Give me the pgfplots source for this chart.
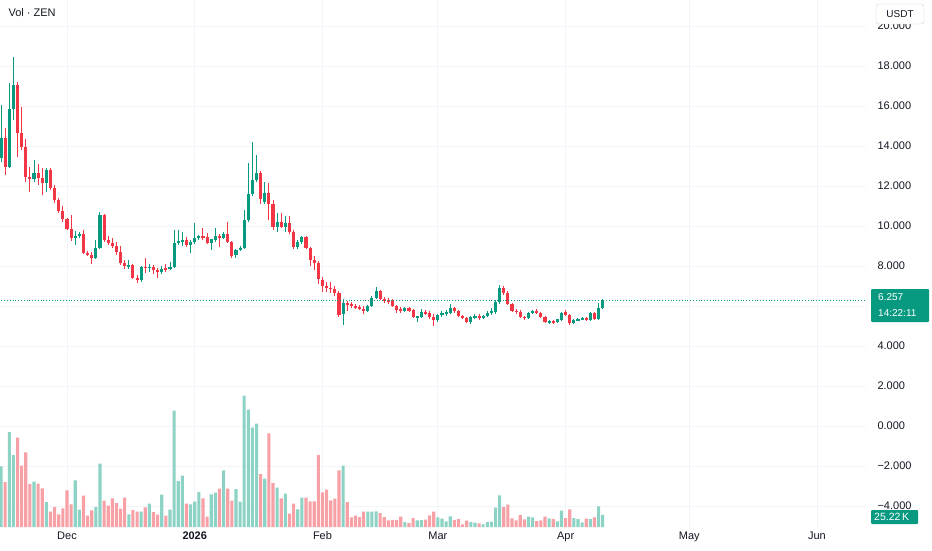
\documentclass[border=0pt]{standalone}
\usepackage{fontspec}
\setmainfont{Liberation Sans}
\usepackage{pgfplots}
\pgfplotsset{compat=1.18}
\usepackage{pgfplotstable}
\definecolor{upc}{HTML}{089981}
\definecolor{dnc}{HTML}{F23645}
\definecolor{upv}{HTML}{8CD3C6}
\definecolor{dnv}{HTML}{F7A1A7}
\definecolor{gridc}{HTML}{F2F4F9}
\definecolor{txt}{HTML}{131722}
% rising candles
\pgfplotstableread{
d o h l c v
-16 13.4 16.05 13.2 14.4 127.4
-14 12.95 17.15 12.9 15.85 199.5
-13 15.85 18.45 15.3 17.05 151.2
-8 12.35 13.3 12.2 12.65 95.2
-5 12.15 12.9 11.7 12.8 52.5
2 9.4 9.75 9.05 9.5 98
3 9.5 9.7 9.4 9.6 36.4
7 8.4 9.3 8.35 8.9 42
8 8.9 10.7 8.85 10.55 133
15 8.0 8.3 7.85 8.05 26.6
18 7.3 8.0 7.2 7.95 32.2
20 7.9 8.1 7.7 7.95 49
23 7.7 8.0 7.6 7.85 67.9
25 7.85 8.2 7.8 7.95 36.4
26 7.95 9.8 7.9 9.15 244.3
27 9.15 9.8 9.05 9.25 96.6
28 9.2 9.7 9.0 9.3 107.8
30 9.05 9.3 8.65 9.2 47.6
31 9.2 10.15 9.1 9.4 53.2
32 9.4 9.55 9.3 9.5 73.5
35 9.15 9.35 8.8 9.35 68.6
36 9.3 9.9 9.2 9.5 72.1
38 9.4 9.7 9.35 9.6 119
41 8.55 8.85 8.4 8.8 79.8
42 8.8 9.0 8.75 8.9 53.2
43 8.9 10.8 8.85 10.3 275.8
44 10.3 13.15 10.2 11.6 246.4
45 11.6 14.2 11.5 12.3 208.6
46 12.3 13.55 12.2 12.65 217
48 11.2 12.2 11.1 11.65 101.5
51 9.95 10.65 9.7 10.2 82.6
53 9.95 10.5 9.7 10.15 70
56 8.95 9.3 8.85 9.2 37.1
57 9.2 9.5 9.1 9.45 61.6
67 5.6 6.35 5.05 6.15 128.8
73 5.75 6.05 5.7 6.0 32.2
74 6.0 6.5 5.95 6.4 32.2
75 6.4 6.95 6.35 6.75 32.9
82 5.75 5.95 5.7 5.9 10.5
85 5.45 5.5 5.2 5.5 14
86 5.45 5.85 5.4 5.7 14.7
90 5.3 5.6 5.2 5.55 20.3
91 5.55 5.75 5.45 5.65 17.5
92 5.6 5.8 5.5 5.7 11.9
93 5.65 6.1 5.6 5.9 22.4
98 5.2 5.5 5.1 5.45 10.5
99 5.45 5.6 5.35 5.5 9.1
101 5.45 5.55 5.35 5.5 5.6
102 5.5 5.75 5.45 5.65 10.5
103 5.65 5.9 5.55 5.75 11.2
104 5.7 6.3 5.6 6.2 40.6
105 6.2 7.05 6.1 6.9 66.5
112 5.4 5.7 5.35 5.65 21.7
113 5.65 5.8 5.6 5.75 20.3
117 5.2 5.3 5.1 5.25 18.2
119 5.2 5.35 5.15 5.35 11.9
120 5.3 5.7 5.25 5.65 34.3
123 5.15 5.35 5.1 5.3 18.9
124 5.3 5.4 5.25 5.35 16.8
125 5.35 5.45 5.3 5.4 9.8
127 5.3 5.7 5.25 5.65 16.8
129 5.35 6.15 5.3 5.9 43.4
130 5.9 6.35 5.85 6.257 25.22
}\up
% falling candles
\pgfplotstableread{
d o h l c v
-15 14.4 14.9 12.55 12.95 94.5
-12 17.05 17.2 13.45 14.65 187.6
-11 14.65 15.95 13.8 13.95 128.8
-10 13.95 14.35 12.2 12.45 156.8
-9 12.45 12.95 11.7 12.35 90.3
-7 12.65 13.1 12.05 12.4 91
-6 12.4 12.9 11.55 12.15 81.2
-4 12.8 12.9 11.8 11.9 32.2
-3 11.9 12.05 11.15 11.3 42
-2 11.3 11.4 10.65 10.75 26.6
-1 10.75 11.0 10.2 10.35 39.2
0 10.35 10.4 9.8 9.85 77
1 9.85 10.55 9.25 9.4 47.6
4 9.6 9.8 8.6 8.65 65.8
5 8.65 8.75 8.5 8.55 23.8
6 8.55 8.7 8.1 8.4 35
9 10.55 10.6 9.2 9.3 55.3
10 9.3 9.5 9.05 9.15 44.8
11 9.15 9.4 8.9 9.0 60.2
12 9.0 9.2 8.55 8.7 50.4
13 8.7 9.0 8.05 8.15 38.5
14 8.15 8.3 7.85 8.0 61.6
16 8.05 8.1 7.35 7.4 35.7
17 7.4 7.55 7.15 7.3 32.2
19 7.95 8.4 7.65 7.9 41.3
21 7.95 8.05 7.6 7.8 31.5
22 7.8 7.9 7.4 7.7 25.9
24 7.9 8.1 7.7 7.85 23.8
29 9.3 9.45 8.95 9.05 49
33 9.5 9.9 9.3 9.4 60.2
34 9.45 9.65 9.1 9.15 21.7
37 9.5 9.6 8.95 9.4 80.5
39 9.6 10.2 9.15 9.2 80.5
40 9.2 9.25 8.4 8.5 55.3
47 12.65 12.75 11.1 11.35 111.3
49 11.65 12.15 10.3 11.1 196.7
50 11.1 11.3 9.8 9.95 92.4
52 10.2 10.65 9.9 9.95 60.2
54 10.15 10.5 9.6 9.7 28
55 9.7 9.8 8.85 8.95 49
58 9.45 9.5 8.85 8.9 61.6
59 8.9 8.95 8.0 8.3 53.9
60 8.3 8.5 7.8 8.15 53.9
61 8.15 8.25 7.1 7.35 151.2
62 7.3 7.45 6.7 7.0 72.8
63 7.0 7.2 6.7 6.9 78.4
64 6.9 7.2 6.65 6.85 56
65 6.85 7.0 6.5 6.65 59.5
66 6.65 6.75 5.45 5.55 119
68 6.15 6.25 5.75 6.1 52.5
69 6.1 6.2 5.9 6.0 20.3
70 6.0 6.1 5.85 5.95 23.8
71 5.95 6.05 5.8 5.85 21
72 5.85 6.0 5.6 5.75 32.2
76 6.75 6.8 6.3 6.35 29.4
77 6.35 6.45 6.15 6.25 21
78 6.3 6.4 6.1 6.2 14
79 6.25 6.35 5.95 6.0 14.7
80 6.0 6.05 5.65 5.8 14.7
81 5.85 5.95 5.65 5.75 21.7
83 5.9 5.95 5.7 5.75 8.4
84 5.8 5.85 5.4 5.45 18.9
87 5.7 5.8 5.55 5.6 15.4
88 5.65 5.75 5.35 5.45 24.5
89 5.45 5.6 5.0 5.3 32.2
94 5.9 5.95 5.65 5.75 14.7
95 5.75 5.8 5.45 5.5 16.8
96 5.5 5.55 5.35 5.4 5.6
97 5.4 5.45 5.15 5.2 13.3
100 5.5 5.6 5.3 5.45 7.7
106 6.9 7.0 6.55 6.65 42
107 6.65 6.75 6.05 6.1 46.9
108 6.1 6.15 5.7 5.75 18.2
109 5.75 5.85 5.6 5.7 14
110 5.7 5.8 5.4 5.45 25.2
111 5.45 5.5 5.3 5.4 16.1
114 5.75 5.85 5.6 5.65 12.6
115 5.65 5.7 5.4 5.45 14
116 5.45 5.5 5.15 5.2 21.7
118 5.25 5.3 5.1 5.2 16.8
121 5.7 5.8 5.5 5.55 18.9
122 5.55 5.6 5.05 5.15 37.1
126 5.4 5.45 5.25 5.3 17.5
128 5.65 5.7 5.3 5.35 20.3
}\dn
\pgfplotsset{
  wick/.style={draw=none, mark=none, forget plot,
    error bars/.cd, y dir=both, y explicit, error mark=none,
    error bar style={draw=#1, line width=1pt, solid}},
  body/.style={draw=none, mark=none, forget plot,
    error bars/.cd, y dir=both, y explicit, error mark=none,
    error bar style={draw=#1, line width=3.1pt, solid}},
}
\begin{document}
\begin{tikzpicture}
\path[use as bounding box, fill=white] (0,0) rectangle (932pt,550pt);
\begin{axis}[
  at={(0pt,23pt)}, anchor=south west, scale only axis,
  width=866pt, height=527pt,
  xmin=-16.26, xmax=193.9, ymin=-5.05, ymax=21.3,
  axis line style={draw=none}, major tick length=0pt,
  xtick={0,31,62,90,121,151,182},
  xticklabels={Dec,\textbf{2026},Feb,Mar,Apr,May,Jun},
  ytick={-4,-2,0,2,4,6,8,10,12,14,16,18,20},
  yticklabels={−4.000,−2.000,0.000,2.000,4.000,{},8.000,10.000,12.000,14.000,16.000,18.000,20.000},
  yticklabel pos=right,
  yticklabel style={anchor=west, xshift=8pt},
  tick label style={font=\fontsize{11}{13}\selectfont, text=txt},
  xticklabel style={yshift=-1pt},
  grid=major, major grid style={draw=gridc, line width=0.8pt},
  clip=true,
]
% wicks
\addplot[wick=upc] table[x=d, y expr={(\thisrow{h}+\thisrow{l})/2}, y error expr={(\thisrow{h}-\thisrow{l})/2}] {\up};
\addplot[wick=dnc] table[x=d, y expr={(\thisrow{h}+\thisrow{l})/2}, y error expr={(\thisrow{h}-\thisrow{l})/2}] {\dn};
% bodies
\addplot[body=upc] table[x=d, y expr={(\thisrow{o}+\thisrow{c})/2}, y error expr={max(abs(\thisrow{o}-\thisrow{c})/2,0.03)}] {\up};
\addplot[body=dnc] table[x=d, y expr={(\thisrow{o}+\thisrow{c})/2}, y error expr={max(abs(\thisrow{o}-\thisrow{c})/2,0.03)}] {\dn};
% last price line
\addplot[upc, line width=0.8pt, dotted] coordinates {(-20,6.257) (200,6.257)};
\end{axis}
\begin{axis}[
  at={(0pt,23pt)}, anchor=south west, scale only axis,
  width=866pt, height=527pt,
  xmin=-16.26, xmax=193.9, ymin=0, ymax=1106.7,
  hide axis, clip=true,
]
\addplot[ybar, bar width=3.1pt, fill=upv, draw=none] table[x=d, y=v] {\up};
\addplot[ybar, bar width=3.1pt, fill=dnv, draw=none] table[x=d, y=v] {\dn};
\end{axis}
% annotations
\node[anchor=west, text=txt, font=\fontsize{11}{13}\selectfont] at (5pt,537pt) {Vol · ZEN};
\draw[draw=black!18, fill=white, rounded corners=3pt] (876pt,526pt) rectangle (924pt,546pt);
\node[text=txt, font=\fontsize{10}{12}\selectfont] at (900pt,536pt) {USDT};
\fill[upc, rounded corners=1pt] (871pt,228pt) rectangle (929pt,261pt);
\node[anchor=west, text=white, font=\fontsize{10}{11}\selectfont, inner sep=0pt] at (878pt,252.5pt) {6.257};
\node[anchor=west, text=white, font=\fontsize{10}{11}\selectfont, inner sep=0pt] at (878pt,237pt) {14:22:11};
\fill[upc, rounded corners=1pt] (871pt,26pt) rectangle (918pt,40pt);
\node[anchor=west, text=white, font=\fontsize{10.5}{12}\selectfont, inner sep=0pt] at (874pt,33pt) {25.22\,K};
\end{tikzpicture}
\end{document}
